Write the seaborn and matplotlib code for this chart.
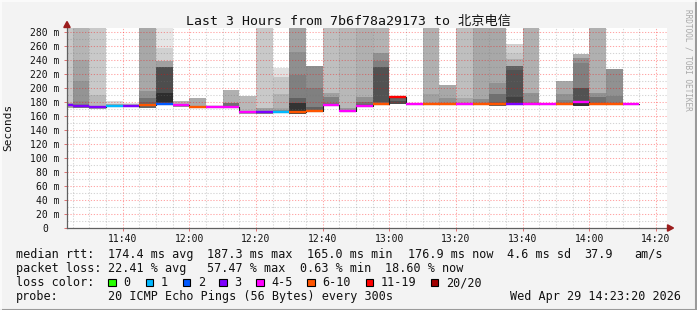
import matplotlib
matplotlib.use("Agg")
import matplotlib.pyplot as plt
import seaborn as sns
import numpy as np
import pandas as pd
from matplotlib.patches import Rectangle, Polygon
from matplotlib.lines import Line2D

# ---------------- data ----------------
bar_start = ["11:20", "11:25", "11:30", "11:35", "11:40", "11:45", "11:50", "11:55",
             "12:00", "12:05", "12:10", "12:15", "12:20", "12:25", "12:30", "12:35",
             "12:40", "12:45", "12:50", "12:55", "13:00", "13:05", "13:10", "13:15",
             "13:20", "13:25", "13:30", "13:35", "13:40", "13:45", "13:50", "13:55",
             "14:00", "14:05", "14:10"]

median_ms = [175.3, 174.7, 172.4, 174.7, 174.7, 175.7, 177.6, 175.2,
             172.4, 172.4, 172.4, 165.0, 165.0, 166.2, 165.2, 167.1,
             175.7, 167.1, 174.3, 177.1, 187.3, 177.6, 177.6, 177.0,
             177.6, 177.6, 177.6, 177.6, 177.6, 176.7, 176.7, 180.5,
             176.7, 176.7, 176.9]

lost_pings = [3, 3, 3, 1, 3, 7, 2, 4,
              6, 5, 4, 5, 3, 1, 8, 6,
              4, 5, 4, 7, 12, 4, 6, 7,
              5, 6, 8, 3, 4, 5, 6, 4,
              6, 7, 4]

# smoke: band edges (ms, bottom -> top) and ping density of each band
smoke_edges = [
    [171, 178, 300],
    [171, 177, 181, 210, 240, 300],
    [170, 174, 190, 300],
    [173, 177, 181],
    [173, 177, 179],
    [172, 180, 186, 195, 300],
    [175, 178, 180.5, 192.5, 230.5, 238.6, 257, 300],
    [173, 177, 182],
    [171, 174, 186],
    [171, 174, 176],
    [171, 174.3, 178, 197],
    [163, 166, 189],
    [163, 167, 171, 300],
    [164, 168, 171, 192, 216, 229],
    [163, 167, 178, 186, 218.6, 252, 300],
    [166, 168.6, 173.3, 199.5, 232],
    [174, 178, 187.6, 192.4, 300],
    [165, 171, 300],
    [173, 176.7, 179.5, 187.6, 300],
    [175, 180.5, 230.5, 239, 249.5, 300],
    [177, 181, 186],
    [176, 178.5],
    [176, 179, 191.4, 300],
    [176, 179, 185.2, 204.3],
    [176, 179, 185.2, 300],
    [176, 183.8, 300],
    [174.3, 177, 180.5, 191.4, 207.6, 300],
    [176, 178, 187.6, 225.7, 231.4, 241, 249.5, 263],
    [176, 180.5, 193.3, 300],
    [175.5, 178],
    [175, 183, 191.4, 210.5],
    [174.3, 180.5, 183, 199.5, 236.2, 242.4, 248.6],
    [175, 180.5, 186.7, 193.3, 300],
    [175, 180.5, 188.6, 227],
    [176, 178.5],
]
smoke_density = [
    [0.35, 0.22],
    [0.50, 0.45, 0.42, 0.36, 0.29],
    [0.35, 0.28, 0.21],
    [0.35, 0.15],
    [0.30, 0.12],
    [0.60, 0.55, 0.43, 0.34],
    [0.60, 0.75, 0.82, 0.70, 0.37, 0.18, 0.10],
    [0.40, 0.30],
    [0.40, 0.33],
    [0.30, 0.12],
    [0.50, 0.56, 0.31],
    [0.35, 0.28],
    [0.45, 0.37, 0.21],
    [0.45, 0.35, 0.30, 0.22, 0.12],
    [0.70, 0.80, 0.62, 0.50, 0.44, 0.37],
    [0.65, 0.62, 0.50, 0.44],
    [0.55, 0.50, 0.37, 0.25],
    [0.40, 0.28],
    [0.60, 0.55, 0.43, 0.31],
    [0.60, 0.68, 0.50, 0.43, 0.30],
    [0.70, 0.60],
    [0.15],
    [0.45, 0.37, 0.31],
    [0.45, 0.43, 0.34],
    [0.40, 0.34, 0.25],
    [0.45, 0.34],
    [0.60, 0.60, 0.56, 0.43, 0.34],
    [0.70, 0.75, 0.68, 0.62, 0.31, 0.22, 0.18],
    [0.45, 0.43, 0.31],
    [0.15],
    [0.50, 0.43, 0.34],
    [0.80, 0.68, 0.68, 0.50, 0.43, 0.31],
    [0.56, 0.56, 0.43, 0.31],
    [0.50, 0.50, 0.43],
    [0.12],
]

loss_labels = ["0", "1", "2", "3", "4-5", "6-10", "11-19", "20/20"]
loss_colors = ["#26ff00", "#00b8ff", "#0059ff", "#7e00ff", "#ff00ff", "#ff5500", "#ff0000", "#a10000"]

y_ticks = [0, 20, 40, 60, 80, 100, 120, 140, 160, 180, 200, 220, 240, 260, 280]
x_ticks = ["11:40", "12:00", "12:20", "12:40", "13:00", "13:20", "13:40", "14:00", "14:20"]

title = "Last 3 Hours from 7b6f78a29173 to 北京电信"
stat_rtt = [("median rtt:", 16), ("174.4 ms avg", 107.6), ("187.3 ms max", 207.4),
            ("165.0 ms min", 307.4), ("176.9 ms now", 407.6), ("4.6 ms sd", 506.8),
            ("37.9", 584.4), ("am/s", 634.6)]
stat_loss = [("packet loss:", 16), ("22.41 % avg", 107.6), ("57.47 % max", 207.4),
             ("0.63 % min", 299.5), ("18.60 % now", 384.6)]
probe_text = "20 ICMP Echo Pings (56 Bytes) every 300s"
date_text = "Wed Apr 29 14:23:20 2026"
step_min = 5


def to_min(s):
    h, m = s.split(":")
    return int(h) * 60 + int(m)


def loss_cat(n):
    if n <= 3:
        return n
    if n <= 5:
        return 4
    if n <= 10:
        return 5
    if n <= 19:
        return 6
    return 7


# ---------------- style ----------------
sns.set_theme(style="white")
MONO = ["DejaVu Sans Mono", "Noto Sans CJK SC"]
plt.rcParams["font.family"] = MONO

W, H = 697, 310
fig = plt.figure(figsize=(W / 100, H / 100), dpi=100, facecolor="#f3f3f3")


def fp(x, y):
    return (x / W, 1 - y / H)


ax = fig.add_axes([67 / W, 1 - 228 / H, 600 / W, 200.5 / H])
ax.set_facecolor("white")
t0 = 11 * 60 + 23 + 20 / 60
ax.set_xlim(t0, t0 + 180)
ax.set_ylim(0, 286.4)

# smoke bands
rows = []
for s, edges, dens in zip(bar_start, smoke_edges, smoke_density):
    for lo, hi, d in zip(edges[:-1], edges[1:], dens):
        rows.append((to_min(s), lo, hi, d))
smoke = pd.DataFrame(rows, columns=["t", "lo", "hi", "d"])
ax.bar(smoke["t"], smoke["hi"] - smoke["lo"], bottom=smoke["lo"], width=step_min,
       align="edge", color=[(1 - d, 1 - d, 1 - d) for d in smoke["d"]],
       linewidth=0, zorder=1)

# median line
med = pd.DataFrame({"t": [to_min(s) for s in bar_start], "m": median_ms,
                    "cat": [loss_cat(n) for n in lost_pings]})
xs = list(med["t"]) + [med["t"].iloc[-1] + step_min]
ys = list(med["m"]) + [med["m"].iloc[-1]]
sns.lineplot(x=xs, y=ys, drawstyle="steps-post", color="#202020", lw=0.8,
             ax=ax, estimator=None, sort=False, zorder=3)
ax.hlines(med["m"], med["t"], med["t"] + step_min,
          colors=[loss_colors[c] for c in med["cat"]], lw=1.7, zorder=4)

# grid
ax.set_yticks(y_ticks)
ax.set_yticks(np.arange(10, 286, 20), minor=True)
ax.set_yticklabels([f"{v} m" if v else "0" for v in y_ticks])
xt = [to_min(s) for s in x_ticks]
ax.set_xticks(xt)
ax.set_xticks(np.arange(to_min("11:25"), t0 + 180, step_min), minor=True)
ax.set_xticklabels(x_ticks)
ax.set_axisbelow(False)
ax.grid(which="major", color=(1, 0, 0), alpha=0.35, lw=0.75, ls=(0, (1.2, 1.6)))
ax.grid(which="minor", color=(0.45, 0.45, 0.45), alpha=0.3, lw=0.75, ls=(0, (1.2, 1.6)))

for sp in ["top", "right"]:
    ax.spines[sp].set_visible(False)
for sp in ["left", "bottom"]:
    ax.spines[sp].set_color("#606060")
    ax.spines[sp].set_linewidth(0.9)
    ax.spines[sp].set_zorder(5)

ax.tick_params(axis="y", which="major", length=2.2, width=0.7, color="#e07070",
               pad=3.3, labelsize=7, labelcolor="#111111", left=True)
ax.tick_params(axis="x", which="major", length=2.0, width=0.7, color="#e07070",
               pad=2.5, labelsize=7, labelcolor="#111111", bottom=True)
ax.tick_params(which="minor", length=0)
ax.yaxis.get_major_ticks()[0].set_pad(3.3 + 8.2)
ax.set_ylabel("Seconds", fontsize=8, color="#111111")
ax.yaxis.set_label_coords((13.0 - 67) / 600, (228 - 127) / 200.5)

# axis arrows
fig.patches.append(Polygon([fp(63.8, 27.5), fp(70.2, 27.5), fp(67, 21.5)], closed=True,
                           transform=fig.transFigure, color="#9b1c1c", zorder=6))
fig.patches.append(Polygon([fp(667.5, 224.8), fp(667.5, 231.2), fp(673.5, 228)], closed=True,
                           transform=fig.transFigure, color="#9b1c1c", zorder=6))

# title and watermark
fig.text(*fp(348, 21.5), title, ha="center", va="center", fontsize=9.5,
         family=MONO, color="#111111")
fig.text(*fp(688, 60), "RRDTOOL / TOBI OETIKER", rotation=270, ha="center", va="center",
         fontsize=5.6, color="#a8a8a8", family=MONO)

# legend / stats
LF = 8.45
for txt, x in stat_rtt:
    fig.text(*fp(x, 254.3), txt, ha="left", va="center", fontsize=LF, family=MONO, color="#111111")
for txt, x in stat_loss:
    fig.text(*fp(x, 268.4), txt, ha="left", va="center", fontsize=LF, family=MONO, color="#111111")
fig.text(*fp(16, 282.5), "loss color:", ha="left", va="center", fontsize=LF, family=MONO, color="#111111")
box_x = [108.3, 145.7, 182.7, 219.3, 256.0, 307.3, 365.7, 430.7]
for bx, lab, col in zip(box_x, loss_labels, loss_colors):
    fig.patches.append(Rectangle(fp(bx, 286.3), 7.6 / W, 7.6 / H, transform=fig.transFigure,
                                 facecolor=col, edgecolor="black", lw=0.8))
    fig.text(*fp(bx + 15, 282.5), lab, ha="left", va="center", fontsize=LF, family=MONO, color="#111111")
fig.text(*fp(16, 296.4), "probe:", ha="left", va="center", fontsize=LF, family=MONO, color="#111111")
fig.text(*fp(107.6, 296.4), probe_text, ha="left", va="center", fontsize=LF, family=MONO, color="#111111")
fig.text(*fp(680.5, 296.4), date_text, ha="right", va="center", fontsize=LF, family=MONO, color="#111111")

# bevelled frame
fig.lines.append(Line2D([0, 1], [0.5 / H, 0.5 / H], transform=fig.transFigure, color="#9a9a9a", lw=1.5))
fig.lines.append(Line2D([1 - 1.0 / W, 1 - 1.0 / W], [0, 1], transform=fig.transFigure, color="#9a9a9a", lw=1.5))
fig.lines.append(Line2D([0, 1], [1 - 0.5 / H, 1 - 0.5 / H], transform=fig.transFigure, color="#fcfcfc", lw=1.2))
fig.lines.append(Line2D([0.5 / W, 0.5 / W], [0, 1], transform=fig.transFigure, color="#fcfcfc", lw=1.2))

fig.savefig("out.png", dpi=100, facecolor=fig.get_facecolor())
